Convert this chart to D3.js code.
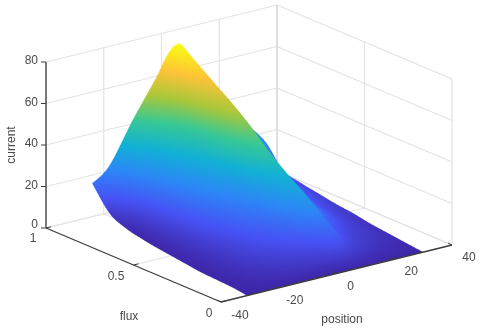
<!DOCTYPE html>
<html><head><meta charset="utf-8">
<script src="https://cdn.jsdelivr.net/npm/d3@7"></script>
<style>html,body{margin:0;padding:0;background:#fff}svg{display:block;filter:blur(0.45px)}text{font-family:"Liberation Sans",Arial,sans-serif;font-size:12px;fill:#4a4a4a}</style>
</head><body><div id="c"></div>
<script>
// --- data ---
const positionTicks=[-40,-20,0,20,40];
const fluxTicks=[0,0.5,1];
const currentTicks=[0,20,40,60,80];
const fluxLevels=[0,0.1,0.2,0.3,0.4,0.5,0.6,0.7,0.8,0.9,1];
// where each flux slice begins on the position axis
const sliceStart=[-31,-30,-29.5,-29,-28,-27,-26,-25,-24,-24,-24];
const leftFractions=[0,0.2,0.467,0.733,0.867,1];   // share of the way from slice start to the crest
const crestPosition=6;
const rightPositions=[10,15,20,27,30];
const current=[
 [0,0,0,0,0,0,0,0,0,0,0],
 [0,1.4,4,7,9.8,12,8,5,3,1.5,1],
 [0,2.3,6.8,11.8,16.5,20,13,8.5,5.5,3,2],
 [0,3,9,16,22.5,27,19,12.5,8,4,3],
 [0,3.8,11,19.6,27.5,33,24,16,10,5.5,4.5],
 [0,4.5,13.5,23.8,33.5,40,30,20,12,7,5.5],
 [0,5.5,16.5,29,40.5,48,37,25,15,8.5,7],
 [0.3,7,20,34,46.5,55,43,30,18,10,8.5],
 [1,9.5,25,40,53,61,50,37,24,13,11],
 [5,15,31,48,61,67,58,47,35,24,21],
 [16,22.6,41.7,59,69,73,66,56,45,30.4,25.5]
];
const parulaStops=["#3e26a8","#4752f4","#2d87f7","#12b1d6","#37c897","#abc739","#fec338","#f9fb14"];

const W=480,H=330;
// --- projection: each data axis contributes a screen offset ---
const xOfPos=d3.scaleLinear().domain([-40,40]).range([0,231]);
const yOfPos=d3.scaleLinear().domain([-40,40]).range([0,-57]);
const xOfFlux=d3.scaleLinear().domain([0,1]).range([221,46]);
const yOfFlux=d3.scaleLinear().domain([0,1]).range([302,228]);
const yOfCur=d3.scaleLinear().domain([0,80]).range([0,-166]);
const X=(p,f)=>xOfPos(p)+xOfFlux(f);
const Y=(p,f,z)=>yOfPos(p)+yOfFlux(f)+yOfCur(z);
const ramp=d3.piecewise(d3.interpolateRgb,parulaStops);
const colorT=d3.scaleLinear().domain([0,73]).range([0,1]).clamp(true);
// colour lookup table, indexed by current
const lut=d3.range(1024).map(i=>{const c=d3.rgb(ramp(i/1023));return [c.r,c.g,c.b];});
const colorAt=z=>lut[Math.round(colorT(z)*1023)];

const svg=d3.select("#c").append("svg").attr("width",W).attr("height",H);
const gridC="#e3e3e3",axisC="#3c3c3c";
const seg=(g,a,b,c,w)=>g.append("line").attr("x1",a[0]).attr("y1",a[1]).attr("x2",b[0]).attr("y2",b[1]).attr("stroke",c).attr("stroke-width",w);
const P=(p,f,z)=>[X(p,f),Y(p,f,z)];

// walls and floor grid
const grid=svg.append("g");
currentTicks.forEach(z=>{
  seg(grid,P(-40,1,z),P(40,1,z),gridC,1.2);
  seg(grid,P(40,1,z),P(40,0,z),gridC,1.2);
});
positionTicks.forEach(p=>{
  seg(grid,P(p,1,0),P(p,1,80),p===40?"#d6d6d6":gridC,p===40?1.6:1.2);
  if(p>-40) seg(grid,P(p,0,0),P(p,1,0),gridC,1.2);
});
fluxTicks.forEach(f=>{
  if(f<1) seg(grid,P(40,f,0),P(40,f,80),gridC,1.2);
  if(f>0) seg(grid,P(-40,f,0),P(40,f,0),gridC,1.2);
});

// surface: row/column knots refined with Catmull-Rom for smooth shading
const nr=fluxLevels.length,nc=current[0].length;
const posKnot=(i,j)=>j<leftFractions.length
  ? sliceStart[i]+(crestPosition-sliceStart[i])*leftFractions[j]
  : rightPositions[j-leftFractions.length];
const cr=(a,b,c,d,t)=>0.5*((2*b)+(c-a)*t+(2*a-5*b+4*c-d)*t*t+(3*b-a-3*c+d)*t*t*t);
const cl=(v,n)=>Math.max(0,Math.min(n-1,v));
function sample(fn,u,v){
  const i=Math.min(nr-2,Math.floor(u)),j=Math.min(nc-2,Math.floor(v)),tu=u-i,tv=v-j,col=[];
  for(let a=-1;a<=2;a++){
    const r=cl(i+a,nr);
    col.push(cr(fn(r,cl(j-1,nc)),fn(r,j),fn(r,j+1),fn(r,cl(j+2,nc)),tv));
  }
  return cr(col[0],col[1],col[2],col[3],tu);
}
const SUBR=10,SUBC=10,SS=3;
const mesh=[];
for(let a=0;a<=(nr-1)*SUBR;a++){
  const row=[];
  for(let b=0;b<=(nc-1)*SUBC;b++){
    const u=a/SUBR,v=b/SUBC;
    const p=sample(posKnot,u,v);
    const f=sample((i,j)=>fluxLevels[i],u,v);
    const z=Math.max(0,sample((i,j)=>current[i][j],u,v));
    row.push({x:X(p,f)*SS,y:Y(p,f,z)*SS,z});
  }
  mesh.push(row);
}
// painter's order raster, back cells first, current shaded per pixel
const cv=document.createElement("canvas");cv.width=W*SS;cv.height=H*SS;
const ctx=cv.getContext("2d"),img=ctx.createImageData(cv.width,cv.height),px=img.data;
function tri(A,B,C){
  const d=(B.y-C.y)*(A.x-C.x)+(C.x-B.x)*(A.y-C.y);
  if(Math.abs(d)<1e-6) return;
  const x0=Math.max(0,Math.floor(Math.min(A.x,B.x,C.x))),x1=Math.min(cv.width-1,Math.ceil(Math.max(A.x,B.x,C.x)));
  const y0=Math.max(0,Math.floor(Math.min(A.y,B.y,C.y))),y1=Math.min(cv.height-1,Math.ceil(Math.max(A.y,B.y,C.y)));
  for(let y=y0;y<=y1;y++)for(let x=x0;x<=x1;x++){
    const xx=x+.5,yy=y+.5;
    const l1=((B.y-C.y)*(xx-C.x)+(C.x-B.x)*(yy-C.y))/d;
    const l2=((C.y-A.y)*(xx-C.x)+(A.x-C.x)*(yy-C.y))/d;
    const l3=1-l1-l2;
    if(l1<-0.002||l2<-0.002||l3<-0.002) continue;
    const c=colorAt(l1*A.z+l2*B.z+l3*C.z),k=(y*cv.width+x)*4;
    px[k]=c[0];px[k+1]=c[1];px[k+2]=c[2];px[k+3]=255;
  }
}
for(let a=mesh.length-2;a>=0;a--){
  for(let b=mesh[0].length-2;b>=0;b--){
    tri(mesh[a][b],mesh[a][b+1],mesh[a+1][b+1]);
    tri(mesh[a][b],mesh[a+1][b+1],mesh[a+1][b]);
  }
}
ctx.putImageData(img,0,0);
svg.append("image").attr("x",0).attr("y",0).attr("width",W).attr("height",H).attr("href",cv.toDataURL("image/png"));

// axes
const ax=svg.append("g");
seg(ax,P(-40,1,0),P(-40,1,80),axisC,1.3);
seg(ax,P(-40,1,0),P(-40,0,0),axisC,1.3);
seg(ax,P(-40,0,0),P(40,0,0),axisC,1.3);
currentTicks.forEach(z=>{
  const q=P(-40,1,z);
  seg(ax,q,[q[0]-5,q[1]],axisC,1);
  ax.append("text").attr("x",q[0]-8).attr("y",q[1]+(z===0?0:2)).attr("text-anchor","end").text(z);
});
const fluxLabelPos={0:[209,317],0.5:[116,280],1:[33,242]};
fluxTicks.forEach(f=>{
  const q=P(-40,f,0);
  seg(ax,q,[q[0]+5,q[1]-1.2],axisC,1);
  ax.append("text").attr("x",fluxLabelPos[f][0]).attr("y",fluxLabelPos[f][1]).attr("text-anchor","middle").text(f);
});
positionTicks.forEach(p=>{
  const q=P(p,0,0);
  seg(ax,q,[q[0]-4,q[1]-2],axisC,1);
  ax.append("text").attr("x",q[0]+ (p===-40?19:(p===0?14:(p===-20?16:17)))).attr("y",q[1]+(p===-40?17:16)).attr("text-anchor","middle").text(p);
});
svg.append("text").attr("x",129).attr("y",320).attr("text-anchor","middle").text("flux");
svg.append("text").attr("x",342).attr("y",323).attr("text-anchor","middle").text("position");
svg.append("text").attr("transform","translate(15,145) rotate(-90)").attr("text-anchor","middle").text("current");
</script></body></html>
